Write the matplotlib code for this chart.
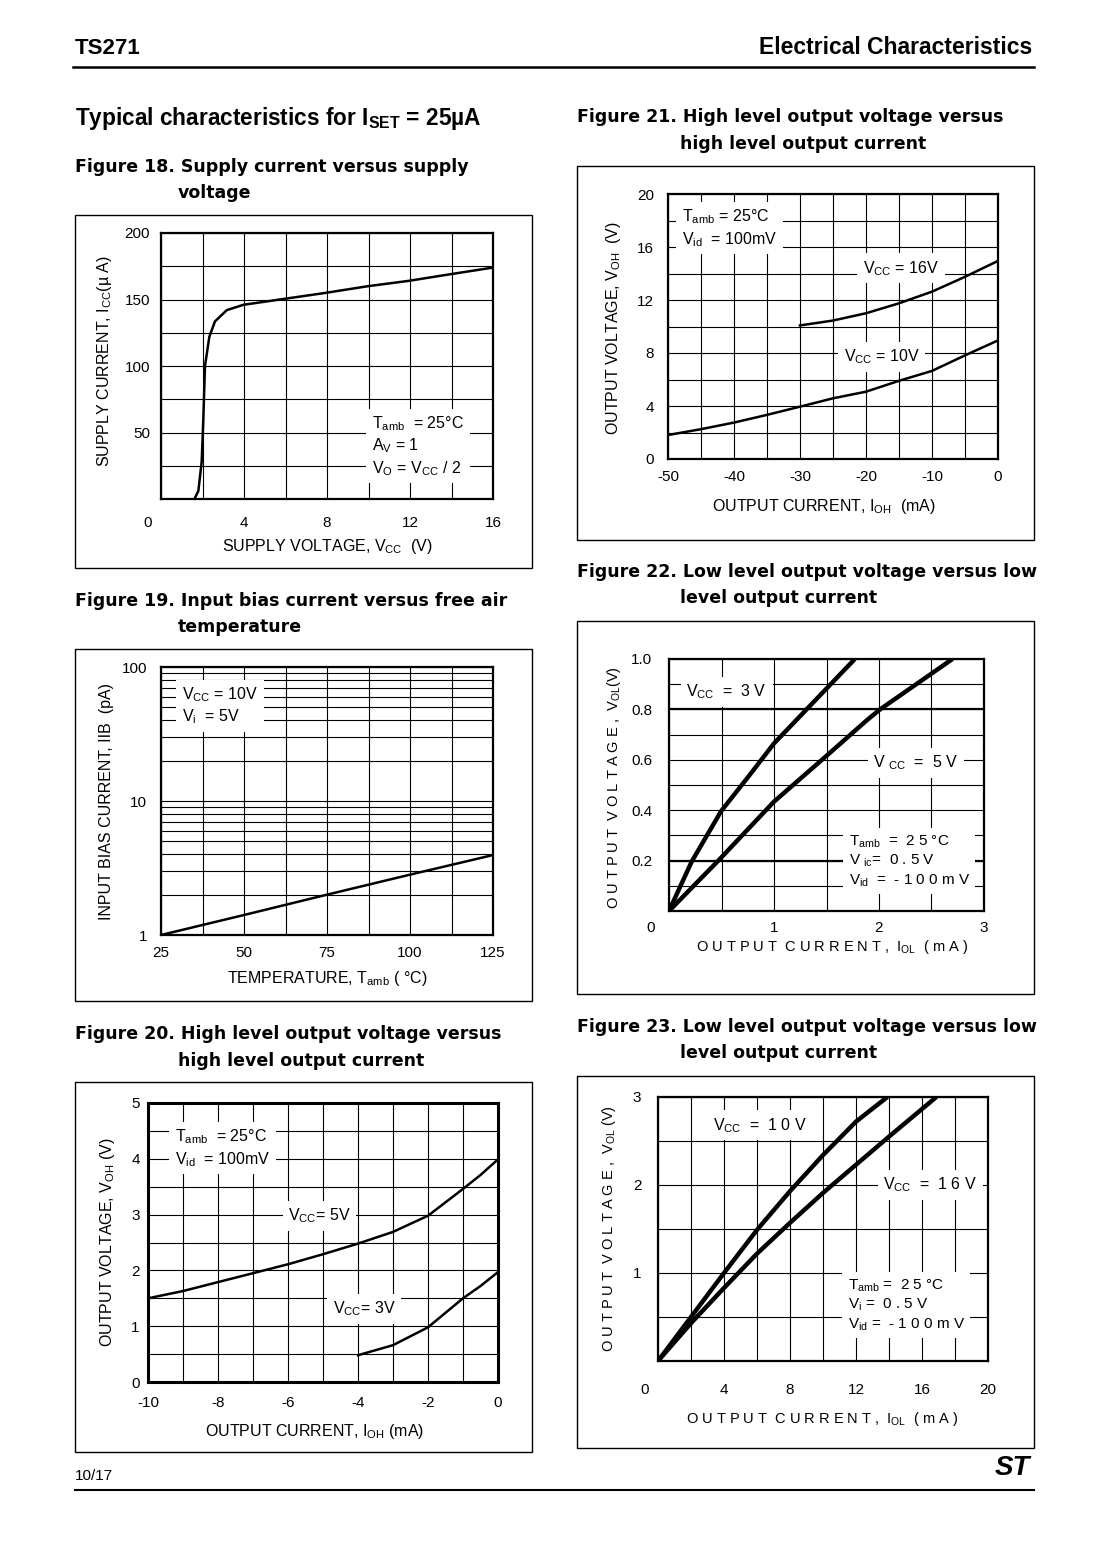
import numpy as np
import matplotlib
matplotlib.use("Agg")
import matplotlib.pyplot as plt
from matplotlib.patches import Rectangle
from matplotlib.lines import Line2D
from matplotlib.transforms import offset_copy

W, H = 1094, 1550

plt.rcParams['font.family'] = ['Liberation Sans', 'DejaVu Sans']
plt.rcParams['mathtext.fontset'] = 'custom'
plt.rcParams['mathtext.rm'] = 'Liberation Sans'
plt.rcParams['mathtext.it'] = 'Liberation Sans:italic'
plt.rcParams['mathtext.bf'] = 'Liberation Sans:bold'
plt.rcParams['mathtext.default'] = 'regular'
plt.rcParams['axes.unicode_minus'] = False

# Figure 18 - supply current vs supply voltage
f18_vcc = [1.61, 1.80, 1.96, 2.04, 2.12, 2.33, 2.60, 3.17, 3.97, 5.95, 7.94, 9.97, 11.93, 13.94, 16.0]
f18_icc = [0, 6, 28, 60, 100, 122, 133.5, 142, 146, 150.5, 155, 160, 164, 169, 174]

# Figure 19 - input bias current vs temperature
f19_temp = [25, 50, 75, 100, 125]
f19_iib = [1.0, 1.41, 2.0, 2.82, 3.95]

# Figure 20 - VOH vs IOH (Vcc = 5V and 3V)
f20_i5 = [-10, -9, -8, -7, -6, -5, -4, -3, -2, -1, -0.5, 0]
f20_v5 = [1.5, 1.63, 1.79, 1.95, 2.11, 2.29, 2.48, 2.69, 2.98, 3.46, 3.71, 3.99]
f20_i3 = [-4, -3, -2, -1, -0.5, 0]
f20_v3 = [0.48, 0.66, 0.98, 1.5, 1.72, 1.97]

# Figure 21 - VOH vs IOH (Vcc = 10V and 16V)
f21_i10 = [-50, -45, -40, -35, -30, -25, -20, -15, -10, -5, 0]
f21_v10 = [1.81, 2.25, 2.75, 3.33, 3.95, 4.58, 5.08, 5.9, 6.65, 7.82, 8.95]
f21_i16 = [-30, -25, -20, -15, -10, -5, 0]
f21_v16 = [10.08, 10.45, 11.0, 11.75, 12.63, 13.75, 14.95]

# Figure 22 - VOL vs IOL (Vcc = 3V and 5V)
f22_i3 = [0, 0.216, 0.496, 0.75, 1.0, 1.31, 1.77]
f22_v3 = [0, 0.196, 0.396, 0.53, 0.665, 0.8, 1.0]
f22_i5 = [0, 0.47, 1.0, 1.457, 1.887, 2.01, 2.70]
f22_v5 = [0, 0.2, 0.434, 0.6, 0.758, 0.8, 1.0]

# Figure 23 - VOL vs IOL (Vcc = 10V and 16V)
f23_i10 = [0, 2, 4, 6, 8, 10, 12, 13.9]
f23_v10 = [0, 0.5, 1.0, 1.49, 1.93, 2.34, 2.72, 3.0]
f23_i16 = [0, 2, 4, 6, 8, 10, 12, 14, 16.87]
f23_v16 = [0, 0.43, 0.83, 1.22, 1.57, 1.91, 2.23, 2.55, 3.0]

fig = plt.figure(figsize=(W / 100, H / 100), dpi=100)

TICK_SIZE = 11
LABEL_SIZE = 11.5
NOTE_SIZE = 11.5


def px_rect(l, t, r, b):
    return [l / W, 1 - b / H, (r - l) / W, (b - t) / H]


def frame(l, t, r, b):
    fig.add_artist(Rectangle((l / W, 1 - b / H), (r - l) / W, (b - t) / H,
                             transform=fig.transFigure, fill=False, lw=1.0, ec='black'))


def hline(x0, x1, y, lw=1.5):
    fig.add_artist(Line2D([x0 / W, x1 / W], [1 - y / H, 1 - y / H],
                          transform=fig.transFigure, color='black', lw=lw))


def page_text(x, y, s, **kw):
    fig.text(x / W, 1 - y / H, s, va='center', **kw)


def fig_title(x, y, s):
    page_text(x, y, s, fontsize=12.5, fontweight='bold', family=['DejaVu Sans'])


def make_axes(rect, xlim, ylim, xgrid, ygrid, xticks, yticks, xlabels=None, ylabels=None,
              spine_w=1.6, xpad=8, ypad=6):
    ax = fig.add_axes(px_rect(*rect))
    ax.set_xlim(*xlim)
    ax.set_ylim(*ylim)
    ax.set_xticks(xgrid, minor=True)
    ax.set_yticks(ygrid, minor=True)
    ax.set_xticks(xticks, xlabels)
    ax.set_yticks(yticks, ylabels)
    ax.grid(which='both', color='black', lw=0.8)
    ax.set_axisbelow(True)
    ax.tick_params(which='both', length=0, labelsize=TICK_SIZE)
    ax.tick_params(axis='x', pad=xpad)
    ax.tick_params(axis='y', pad=ypad)
    for sp in ax.spines.values():
        sp.set_linewidth(spine_w)
    return ax


def corner_zero(ax, dx, pad):
    # the shared "0" in the corner sits a little left of the axis origin (offsets in points)
    tr = offset_copy(ax.get_xaxis_transform(), fig=fig, x=dx, y=-pad, units='points')
    ax.text(0, 0, '0', transform=tr, ha='center', va='top', fontsize=TICK_SIZE)


def labels(ax, xl, xpos, yl, ypos, size=LABEL_SIZE):
    ax.text(xpos[0], xpos[1], xl, transform=ax.transAxes, ha='center', va='center', fontsize=size)
    ax.text(ypos[0], ypos[1], yl, transform=ax.transAxes, ha='center', va='center',
            rotation=90, fontsize=size)


def note(ax, x, y, s, ha='left', size=NOTE_SIZE):
    ax.text(x, y, s, ha=ha, va='center', fontsize=size, linespacing=1.25, zorder=5,
            bbox=dict(fc='white', ec='none', pad=4))


# page header / footer
page_text(75, 48, 'TS271', fontsize=16, fontweight='bold')
page_text(1032, 48, 'Electrical Characteristics', fontsize=16.5, fontweight='bold', ha='right')
hline(73, 1034, 67, lw=1.8)
page_text(75, 118, r'Typical characteristics for I$_{SET}$ = 25µA', fontsize=16.3, fontweight='bold')
page_text(75, 1476, '10/17', fontsize=11)
hline(75, 1034, 1490, lw=1.5)
page_text(1030, 1468, 'ST', fontsize=20, fontweight='bold', style='italic', ha='right')

# figure titles
fig_title(75, 167, 'Figure 18. Supply current versus supply')
fig_title(178, 193, 'voltage')
fig_title(75, 601, 'Figure 19. Input bias current versus free air')
fig_title(178, 627, 'temperature')
fig_title(75, 1034, 'Figure 20. High level output voltage versus')
fig_title(178, 1061, 'high level output current')
fig_title(577, 117, 'Figure 21. High level output voltage versus')
fig_title(680, 144, 'high level output current')
fig_title(577, 572, 'Figure 22. Low level output voltage versus low')
fig_title(680, 598, 'level output current')
fig_title(577, 1027, 'Figure 23. Low level output voltage versus low')
fig_title(680, 1053, 'level output current')

# frames round each chart
frame(75, 215, 532, 568)
frame(75, 649, 532, 1001)
frame(75, 1082, 532, 1452)
frame(577, 166, 1034, 540)
frame(577, 621, 1034, 994)
frame(577, 1076, 1034, 1448)

# ---- Figure 18
ax = make_axes((161, 233, 493, 499), (0, 16), (0, 200), np.arange(0, 17, 2), np.arange(0, 201, 25),
               [4, 8, 12, 16], [50, 100, 150, 200], xpad=12, ypad=8)
corner_zero(ax, -9.5, 12)
ax.plot(f18_vcc, f18_icc, color='black', lw=1.8)
labels(ax, r'SUPPLY VOLTAGE, V$_{CC}$  (V)', (0.5, -0.177),
       r'SUPPLY CURRENT, I$_{CC}$(µ A)', (-0.169, 0.52))
note(ax, 10.17, 39.8, 'T$_{amb}$  = 25°C\nA$_{V}$ = 1\nV$_{O}$ = V$_{CC}$ / 2')

# ---- Figure 19
ax = make_axes((161, 667, 493, 935), (25, 125), (1, 100), np.arange(25, 126, 12.5), [1, 10, 100],
               [25, 50, 75, 100, 125], [1, 10, 100], ylabels=['1', '10', '100'], xpad=8, ypad=10)
ax.set_yscale('log')
ax.set_ylim(1, 100)
ax.set_yticks([1, 10, 100], ['1', '10', '100'])
ax.yaxis.set_minor_locator(matplotlib.ticker.LogLocator(subs=np.arange(2, 10)))
ax.yaxis.set_minor_formatter(matplotlib.ticker.NullFormatter())
ax.tick_params(which='both', length=0)
ax.plot(f19_temp, f19_iib, color='black', lw=1.8)
labels(ax, r'TEMPERATURE, T$_{amb}$ ( °C)', (0.5, -0.164),
       'INPUT BIAS CURRENT, IIB  (pA)', (-0.163, 0.50))
note(ax, 31.3, 51.2, 'V$_{CC}$ = 10V\nV$_{i}$  = 5V')

# ---- Figure 20
ax = make_axes((148, 1103, 498, 1382), (-10, 0), (0, 5), np.arange(-10, 0.1, 1), np.arange(0, 5.1, 0.5),
               [-10, -8, -6, -4, -2, 0], [0, 1, 2, 3, 4, 5], spine_w=2.2, xpad=10, ypad=6)
ax.plot(f20_i5, f20_v5, color='black', lw=1.8)
ax.plot(f20_i3, f20_v3, color='black', lw=1.8)
labels(ax, r'OUTPUT CURRENT, I$_{OH}$ (mA)', (0.477, -0.179),
       r'OUTPUT VOLTAGE, V$_{OH}$ (V)', (-0.117, 0.5))
note(ax, -9.23, 4.19, 'T$_{amb}$  = 25°C\nV$_{id}$  = 100mV')
note(ax, -5.1, 2.98, 'V$_{CC}$= 5V', ha='center')
note(ax, -3.83, 1.31, 'V$_{CC}$= 3V', ha='center')

# ---- Figure 21
ax = make_axes((668, 194, 998, 459), (-50, 0), (0, 20), np.arange(-50, 0.1, 5), np.arange(0, 20.1, 2),
               [-50, -40, -30, -20, -10, 0], [0, 4, 8, 12, 16, 20], xpad=8, ypad=10)
ax.plot(f21_i10, f21_v10, color='black', lw=1.8)
ax.plot(f21_i16, f21_v16, color='black', lw=1.8)
labels(ax, r'OUTPUT CURRENT, I$_{OH}$  (mA)', (0.473, -0.181),
       r'OUTPUT VOLTAGE, V$_{OH}$  (V)', (-0.164, 0.494))
note(ax, -47.9, 17.43, 'T$_{amb}$ = 25°C\nV$_{id}$  = 100mV')
note(ax, -14.7, 14.4, 'V$_{CC}$ = 16V', ha='center')
note(ax, -17.6, 7.7, 'V$_{CC}$ = 10V', ha='center')

# ---- Figure 22
ax = make_axes((669, 659, 984, 911), (0, 3), (0, 1), np.arange(0, 3.01, 0.5), np.arange(0, 1.01, 0.1),
               [1, 2, 3], [0.2, 0.4, 0.6, 0.8, 1.0], xlabels=['1', '2', '3'],
               ylabels=['0.2', '0.4', '0.6', '0.8', '1.0'], xpad=7, ypad=12)
corner_zero(ax, -13.5, 7)
for yv in [0.2, 0.8]:
    ax.axhline(yv, color='black', lw=1.6, zorder=1)
ax.plot(f22_i3, f22_v3, color='black', lw=3.2, solid_capstyle='butt')
ax.plot(f22_i5, f22_v5, color='black', lw=3.2, solid_capstyle='butt')
labels(ax, r'O U T P U T  C U R R E N T ,  I$_{OL}$  ( m A )', (0.517, -0.143),
       r'O U T P U T  V O L T A G E ,  V$_{OL}$(V)', (-0.175, 0.49), size=10.5)
note(ax, 0.55, 0.87, 'V$_{C C}$  =  3 V', ha='center')
note(ax, 2.35, 0.587, 'V $_{C C}$  =  5 V', ha='center')
note(ax, 1.71, 0.198, 'T$_{amb}$  =  2 5 °C\nV $_{ic}$=  0 . 5 V\nV$_{id}$  =  - 1 0 0 m V', size=11)

# ---- Figure 23
ax = make_axes((658, 1097, 988, 1361), (0, 20), (0, 3), np.arange(0, 20.1, 2), np.arange(0, 3.01, 0.5),
               [4, 8, 12, 16, 20], [1, 2, 3], xpad=16, ypad=12)
corner_zero(ax, -9.5, 16)
ax.plot(f23_i10, f23_v10, color='black', lw=3.2, solid_capstyle='butt')
ax.plot(f23_i16, f23_v16, color='black', lw=3.2, solid_capstyle='butt')
labels(ax, r'O U T P U T  C U R R E N T ,  I$_{OL}$  ( m A )', (0.497, -0.22),
       r'O U T P U T  V O L T A G E ,  V$_{OL}$ (V)', (-0.148, 0.5), size=10.5)
note(ax, 6.2, 2.68, 'V$_{C C}$  =  1 0 V', ha='center')
note(ax, 16.5, 2.0, 'V$_{C C}$  =  1 6 V', ha='center')
note(ax, 11.5, 0.636, 'T$_{amb}$ =  2 5 °C\nV$_{i}$ =  0 . 5 V\nV$_{id}$ =  - 1 0 0 m V', size=11)

fig.savefig('out.png', dpi=100)
